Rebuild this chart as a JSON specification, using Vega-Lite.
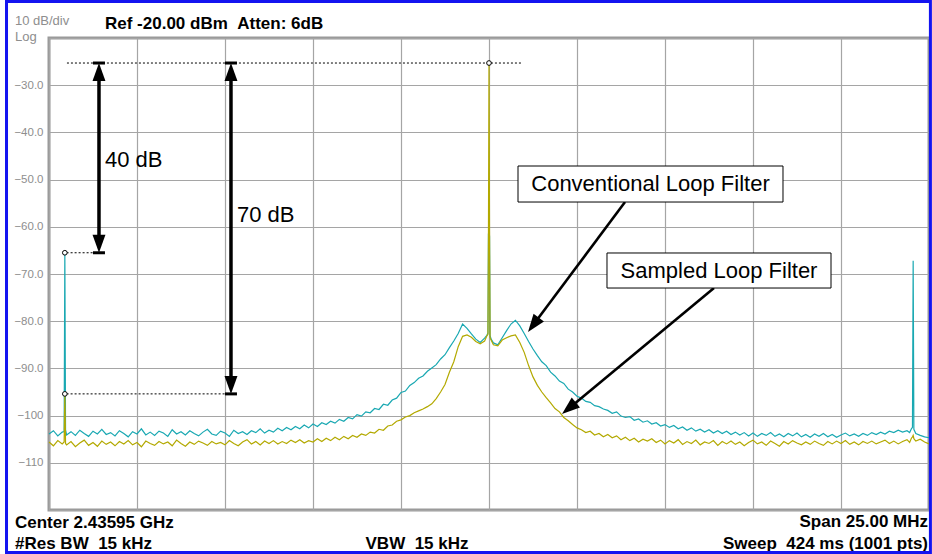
{
  "$schema": "https://vega.github.io/schema/vega-lite/v6.json",
  "width": 880,
  "height": 472,
  "autosize": {"type": "none"},
  "padding": {"left": 49, "top": 38, "right": 3, "bottom": 44},
  "background": "white",
  "config": {
    "view": {"stroke": "#9a9a9a", "strokeWidth": 3},
    "font": "Liberation Sans"
  },
  "datasets": {
    "trace": [
      {"f": -12.5, "c": -103.9, "s": -105.6},
      {"f": -12.375, "c": -103.2, "s": -106.4},
      {"f": -12.25, "c": -104.3, "s": -105.3},
      {"f": -12.125, "c": -103.5, "s": -106.0},
      {"f": -12.07, "c": -103.4, "s": -105.6},
      {"f": -12.05, "c": -65.5, "s": -95.4},
      {"f": -12.03, "c": -103.0, "s": -105.9},
      {"f": -12.0, "c": -104.1, "s": -106.2},
      {"f": -11.875, "c": -103.4, "s": -105.5},
      {"f": -11.75, "c": -104.2, "s": -106.6},
      {"f": -11.625, "c": -103.1, "s": -105.8},
      {"f": -11.5, "c": -103.8, "s": -105.2},
      {"f": -11.375, "c": -104.4, "s": -106.3},
      {"f": -11.25, "c": -103.3, "s": -105.7},
      {"f": -11.125, "c": -103.9, "s": -106.5},
      {"f": -11.0, "c": -102.9, "s": -105.4},
      {"f": -10.875, "c": -104.0, "s": -106.1},
      {"f": -10.75, "c": -103.6, "s": -105.6},
      {"f": -10.625, "c": -104.3, "s": -106.4},
      {"f": -10.5, "c": -103.2, "s": -105.5},
      {"f": -10.375, "c": -103.8, "s": -106.0},
      {"f": -10.25, "c": -104.5, "s": -105.3},
      {"f": -10.125, "c": -103.4, "s": -106.2},
      {"f": -10.0, "c": -103.9, "s": -105.7},
      {"f": -9.875, "c": -102.8, "s": -106.6},
      {"f": -9.75, "c": -104.1, "s": -105.4},
      {"f": -9.625, "c": -103.5, "s": -105.9},
      {"f": -9.5, "c": -104.2, "s": -106.3},
      {"f": -9.375, "c": -103.3, "s": -105.5},
      {"f": -9.25, "c": -103.7, "s": -106.0},
      {"f": -9.125, "c": -104.4, "s": -105.6},
      {"f": -9.0, "c": -103.0, "s": -106.4},
      {"f": -8.875, "c": -103.9, "s": -105.2},
      {"f": -8.75, "c": -103.4, "s": -105.9},
      {"f": -8.625, "c": -104.1, "s": -106.5},
      {"f": -8.5, "c": -103.2, "s": -105.6},
      {"f": -8.375, "c": -103.8, "s": -106.1},
      {"f": -8.25, "c": -104.3, "s": -105.4},
      {"f": -8.125, "c": -103.5, "s": -105.8},
      {"f": -8.0, "c": -102.9, "s": -106.3},
      {"f": -7.875, "c": -103.9, "s": -105.5},
      {"f": -7.75, "c": -104.2, "s": -106.0},
      {"f": -7.625, "c": -103.3, "s": -105.7},
      {"f": -7.5, "c": -103.7, "s": -106.2},
      {"f": -7.375, "c": -104.4, "s": -105.3},
      {"f": -7.25, "c": -103.1, "s": -105.9},
      {"f": -7.125, "c": -103.8, "s": -106.4},
      {"f": -7.0, "c": -103.4, "s": -105.6},
      {"f": -6.875, "c": -104.0, "s": -105.1},
      {"f": -6.75, "c": -103.2, "s": -106.0},
      {"f": -6.625, "c": -103.6, "s": -105.5},
      {"f": -6.5, "c": -102.8, "s": -106.2},
      {"f": -6.375, "c": -103.7, "s": -105.4},
      {"f": -6.25, "c": -103.1, "s": -105.9},
      {"f": -6.125, "c": -103.5, "s": -105.3},
      {"f": -6.0, "c": -102.7, "s": -106.0},
      {"f": -5.875, "c": -103.2, "s": -105.5},
      {"f": -5.75, "c": -102.5, "s": -105.9},
      {"f": -5.625, "c": -103.0, "s": -105.2},
      {"f": -5.5, "c": -102.3, "s": -105.7},
      {"f": -5.375, "c": -102.8, "s": -105.1},
      {"f": -5.25, "c": -102.0, "s": -105.8},
      {"f": -5.125, "c": -102.6, "s": -105.3},
      {"f": -5.0, "c": -101.8, "s": -105.6},
      {"f": -4.875, "c": -102.3, "s": -104.9},
      {"f": -4.75, "c": -101.5, "s": -105.5},
      {"f": -4.625, "c": -101.9, "s": -104.8},
      {"f": -4.5, "c": -101.2, "s": -105.3},
      {"f": -4.375, "c": -101.6, "s": -104.6},
      {"f": -4.25, "c": -100.8, "s": -105.1},
      {"f": -4.125, "c": -101.2, "s": -104.4},
      {"f": -4.0, "c": -100.4, "s": -104.9},
      {"f": -3.875, "c": -100.7, "s": -104.2},
      {"f": -3.75, "c": -99.8, "s": -104.6},
      {"f": -3.625, "c": -100.1, "s": -103.9},
      {"f": -3.5, "c": -99.2, "s": -104.2},
      {"f": -3.375, "c": -99.4, "s": -103.5},
      {"f": -3.25, "c": -98.5, "s": -103.7},
      {"f": -3.125, "c": -98.7, "s": -102.9},
      {"f": -3.0, "c": -97.6, "s": -103.1},
      {"f": -2.875, "c": -97.8, "s": -102.2},
      {"f": -2.75, "c": -96.7, "s": -102.0},
      {"f": -2.625, "c": -96.3, "s": -101.2},
      {"f": -2.5, "c": -95.1, "s": -100.9},
      {"f": -2.375, "c": -94.8, "s": -100.3},
      {"f": -2.25, "c": -93.6, "s": -100.0},
      {"f": -2.125, "c": -93.0, "s": -99.4},
      {"f": -2.0, "c": -92.1, "s": -99.0},
      {"f": -1.875, "c": -91.6, "s": -98.6},
      {"f": -1.75, "c": -90.6, "s": -98.1},
      {"f": -1.625, "c": -89.9, "s": -97.5},
      {"f": -1.5, "c": -89.2, "s": -96.4},
      {"f": -1.375, "c": -88.0, "s": -95.0},
      {"f": -1.25, "c": -87.1, "s": -93.4},
      {"f": -1.125, "c": -85.6, "s": -90.8},
      {"f": -1.0, "c": -84.2, "s": -88.6},
      {"f": -0.875, "c": -82.6, "s": -85.4},
      {"f": -0.75, "c": -80.6, "s": -83.2},
      {"f": -0.625, "c": -81.5, "s": -82.9},
      {"f": -0.5, "c": -82.7, "s": -83.4},
      {"f": -0.375, "c": -83.8, "s": -84.3},
      {"f": -0.25, "c": -84.5, "s": -84.8},
      {"f": -0.125, "c": -83.6, "s": -84.2},
      {"f": -0.06, "c": -83.0, "s": -83.1},
      {"f": -0.03, "c": -82.5, "s": -82.8},
      {"f": -0.015, "c": -61.5, "s": -60.8},
      {"f": 0.0, "c": -61.0, "s": -25.3},
      {"f": 0.015, "c": -62.0, "s": -61.0},
      {"f": 0.03, "c": -83.0, "s": -83.5},
      {"f": 0.06, "c": -83.8, "s": -84.0},
      {"f": 0.125, "c": -84.6, "s": -85.0},
      {"f": 0.25, "c": -85.0, "s": -85.2},
      {"f": 0.375, "c": -83.5, "s": -84.0},
      {"f": 0.5, "c": -82.0, "s": -83.5},
      {"f": 0.625, "c": -80.6, "s": -83.1},
      {"f": 0.75, "c": -79.8, "s": -82.9},
      {"f": 0.875, "c": -81.0, "s": -84.5},
      {"f": 1.0, "c": -82.6, "s": -86.6},
      {"f": 1.125, "c": -84.3, "s": -89.4},
      {"f": 1.25, "c": -85.9, "s": -91.8},
      {"f": 1.375, "c": -87.3, "s": -93.6},
      {"f": 1.5, "c": -88.6, "s": -95.0},
      {"f": 1.625, "c": -89.4, "s": -96.2},
      {"f": 1.75, "c": -90.8, "s": -97.3},
      {"f": 1.875, "c": -91.6, "s": -98.5},
      {"f": 2.0, "c": -92.7, "s": -99.2},
      {"f": 2.125, "c": -93.2, "s": -100.4},
      {"f": 2.25, "c": -94.4, "s": -101.1},
      {"f": 2.375, "c": -95.0, "s": -101.9},
      {"f": 2.5, "c": -95.9, "s": -102.6},
      {"f": 2.625, "c": -96.3, "s": -103.0},
      {"f": 2.75, "c": -97.0, "s": -103.6},
      {"f": 2.875, "c": -97.2, "s": -103.3},
      {"f": 3.0, "c": -97.9, "s": -104.1},
      {"f": 3.125, "c": -98.1, "s": -103.8},
      {"f": 3.25, "c": -98.6, "s": -104.5},
      {"f": 3.375, "c": -98.9, "s": -104.0},
      {"f": 3.5, "c": -99.5, "s": -104.7},
      {"f": 3.625, "c": -99.2, "s": -104.3},
      {"f": 3.75, "c": -100.1, "s": -105.1},
      {"f": 3.875, "c": -100.4, "s": -104.6},
      {"f": 4.0, "c": -100.2, "s": -105.3},
      {"f": 4.125, "c": -101.0, "s": -104.8},
      {"f": 4.25, "c": -100.7, "s": -105.6},
      {"f": 4.375, "c": -101.4, "s": -105.0},
      {"f": 4.5, "c": -101.1, "s": -105.4},
      {"f": 4.625, "c": -101.8, "s": -104.9},
      {"f": 4.75, "c": -101.5, "s": -105.7},
      {"f": 4.875, "c": -102.2, "s": -105.2},
      {"f": 5.0, "c": -101.9, "s": -106.0},
      {"f": 5.125, "c": -102.5, "s": -105.3},
      {"f": 5.25, "c": -102.1, "s": -105.8},
      {"f": 5.375, "c": -102.8, "s": -105.1},
      {"f": 5.5, "c": -102.4, "s": -106.1},
      {"f": 5.625, "c": -103.1, "s": -105.5},
      {"f": 5.75, "c": -102.6, "s": -105.9},
      {"f": 5.875, "c": -103.3, "s": -105.2},
      {"f": 6.0, "c": -102.9, "s": -106.2},
      {"f": 6.125, "c": -103.5, "s": -105.6},
      {"f": 6.25, "c": -103.0, "s": -105.9},
      {"f": 6.375, "c": -103.7, "s": -105.3},
      {"f": 6.5, "c": -103.2, "s": -106.3},
      {"f": 6.625, "c": -103.8, "s": -105.5},
      {"f": 6.75, "c": -103.3, "s": -106.0},
      {"f": 6.875, "c": -104.0, "s": -105.4},
      {"f": 7.0, "c": -103.5, "s": -106.1},
      {"f": 7.125, "c": -104.1, "s": -105.6},
      {"f": 7.25, "c": -103.6, "s": -106.4},
      {"f": 7.375, "c": -104.3, "s": -105.7},
      {"f": 7.5, "c": -103.7, "s": -105.2},
      {"f": 7.625, "c": -104.4, "s": -106.0},
      {"f": 7.75, "c": -103.8, "s": -105.6},
      {"f": 7.875, "c": -104.2, "s": -106.3},
      {"f": 8.0, "c": -103.6, "s": -105.4},
      {"f": 8.125, "c": -104.4, "s": -105.9},
      {"f": 8.25, "c": -103.9, "s": -106.5},
      {"f": 8.375, "c": -104.5, "s": -105.5},
      {"f": 8.5, "c": -103.8, "s": -106.0},
      {"f": 8.625, "c": -104.3, "s": -105.3},
      {"f": 8.75, "c": -103.7, "s": -105.8},
      {"f": 8.875, "c": -104.5, "s": -106.2},
      {"f": 9.0, "c": -104.0, "s": -105.6},
      {"f": 9.125, "c": -104.6, "s": -106.1},
      {"f": 9.25, "c": -103.9, "s": -105.4},
      {"f": 9.375, "c": -104.4, "s": -105.9},
      {"f": 9.5, "c": -103.8, "s": -106.3},
      {"f": 9.625, "c": -104.5, "s": -105.5},
      {"f": 9.75, "c": -104.0, "s": -106.0},
      {"f": 9.875, "c": -104.6, "s": -105.4},
      {"f": 10.0, "c": -104.1, "s": -105.9},
      {"f": 10.125, "c": -103.7, "s": -105.3},
      {"f": 10.25, "c": -104.3, "s": -106.1},
      {"f": 10.375, "c": -103.9, "s": -105.6},
      {"f": 10.5, "c": -104.4, "s": -106.2},
      {"f": 10.625, "c": -103.8, "s": -105.5},
      {"f": 10.75, "c": -104.2, "s": -105.9},
      {"f": 10.875, "c": -103.6, "s": -105.4},
      {"f": 11.0, "c": -104.0, "s": -106.0},
      {"f": 11.125, "c": -103.5, "s": -105.6},
      {"f": 11.25, "c": -103.9, "s": -105.2},
      {"f": 11.375, "c": -103.3, "s": -105.9},
      {"f": 11.5, "c": -103.6, "s": -105.4},
      {"f": 11.625, "c": -103.1, "s": -106.0},
      {"f": 11.75, "c": -103.5, "s": -105.5},
      {"f": 11.875, "c": -103.2, "s": -105.1},
      {"f": 11.95, "c": -103.6, "s": -105.7},
      {"f": 12.0, "c": -102.8, "s": -104.8},
      {"f": 12.03, "c": -102.5, "s": -104.5},
      {"f": 12.05, "c": -67.2, "s": -104.2},
      {"f": 12.07, "c": -102.9, "s": -104.9},
      {"f": 12.125, "c": -103.8, "s": -105.4},
      {"f": 12.25, "c": -104.2, "s": -105.0},
      {"f": 12.375, "c": -104.5, "s": -105.6},
      {"f": 12.5, "c": -104.7, "s": -106.0}
    ],
    "dots": [
      {"x": -11.99, "x2": 0.9375, "y": -25.3},
      {"x": -12.0, "x2": -10.95, "y": -65.5},
      {"x": -12.0, "x2": -7.25, "y": -95.4}
    ],
    "circles": [
      {"x": 0, "y": -25.3},
      {"x": -12.05, "y": -65.5},
      {"x": -12.05, "y": -95.4}
    ],
    "vshafts": [
      {"x": -11.08, "y": -27.0, "x2": -11.08, "y2": -63.8},
      {"x": -7.33, "y": -27.0, "x2": -7.33, "y2": -93.7}
    ],
    "dshafts": [
      {"x": 3.864, "y": -54.75, "x2": 1.244, "y2": -80.93},
      {"x": 6.392, "y": -72.97, "x2": 2.25, "y2": -98.58}
    ],
    "bars": [
      {"x": -11.25, "x2": -10.91, "y": -25.3},
      {"x": -11.25, "x2": -10.91, "y": -65.5},
      {"x": -7.5, "x2": -7.16, "y": -25.3},
      {"x": -7.5, "x2": -7.16, "y": -95.4}
    ],
    "heads": [
      {"x": -11.08, "y": -25.3, "a": 0},
      {"x": -11.08, "y": -65.5, "a": 180},
      {"x": -7.33, "y": -25.3, "a": 0},
      {"x": -7.33, "y": -95.4, "a": 180},
      {"x": 1.108, "y": -82.3, "a": 216.7},
      {"x": 2.074, "y": -99.66, "a": 230.3}
    ],
    "boxes": [
      {"x": 0.824, "x2": 8.352, "y": -47.12, "y2": -54.75, "cx": 4.588, "cy": -50.93, "label": "Conventional Loop Filter"},
      {"x": 3.352, "x2": 9.716, "y": -65.55, "y2": -72.97, "cx": 6.534, "cy": -69.26, "label": "Sampled Loop Filter"}
    ],
    "dblabels": [
      {"x": -10.91, "y": -45.85, "t": "40 dB"},
      {"x": -7.16, "y": -57.5, "t": "70 dB"}
    ],
    "graytext": [
      {"x": -13.466, "y": -16.5, "t": "10 dB/div"},
      {"x": -13.466, "y": -19.75, "t": "Log"}
    ],
    "boldleft": [
      {"x": -10.909, "y": -17.03, "t": "Ref -20.00 dBm\u00a0\u00a0Atten: 6dB"},
      {"x": -13.466, "y": -122.86, "t": "Center 2.43595 GHz"},
      {"x": -13.466, "y": -127.2, "t": "#Res BW\u00a0\u00a015 kHz"}
    ],
    "boldcenter": [
      {"x": -2.045, "y": -127.2, "t": "VBW\u00a0\u00a015 kHz"}
    ],
    "boldright": [
      {"x": 12.472, "y": -122.54, "t": "Span 25.00 MHz"},
      {"x": 12.472, "y": -127.2, "t": "Sweep\u00a0\u00a0424 ms (1001 pts)"}
    ],
    "frame": [
      {"x": -13.707, "x2": 12.54, "y": -12.27, "y2": -129.0}
    ]
  },
  "layer": [
    {
      "data": {"name": "trace"},
      "mark": {"type": "line", "color": "#19a8b2", "strokeWidth": 1.2, "interpolate": "linear"},
      "encoding": {
        "x": {
          "field": "f", "type": "quantitative",
          "scale": {"domain": [-12.5, 12.5], "nice": false, "zero": false},
          "axis": {
            "values": [-12.5, -10, -7.5, -5, -2.5, 0, 2.5, 5, 7.5, 10, 12.5],
            "grid": true, "gridColor": "#a5a5a5", "gridWidth": 1.2, "gridOpacity": 1,
            "labels": false, "ticks": false, "domain": false, "title": null
          }
        },
        "y": {
          "field": "c", "type": "quantitative",
          "scale": {"domain": [-120, -20], "nice": false, "zero": false},
          "axis": {
            "values": [-120, -110, -100, -90, -80, -70, -60, -50, -40, -30, -20],
            "grid": true, "gridColor": "#a5a5a5", "gridWidth": 1.2, "gridOpacity": 1,
            "ticks": false, "domain": false, "title": null,
            "labelColor": "#8e8e8e", "labelFontSize": 11.5, "labelFont": "Liberation Sans",
            "labelPadding": 6,
            "labelExpr": "datum.value == -20 || datum.value == -120 ? '' : (datum.value <= -100 ? format(datum.value, 'd') : format(datum.value, '.1f'))"
          }
        }
      }
    },
    {
      "data": {"name": "trace"},
      "mark": {"type": "line", "color": "#b3a900", "strokeWidth": 1.2, "interpolate": "linear"},
      "encoding": {
        "x": {"field": "f", "type": "quantitative"},
        "y": {"field": "s", "type": "quantitative"}
      }
    },
    {
      "data": {"name": "dots"},
      "mark": {"type": "rule", "color": "black", "strokeWidth": 1, "strokeDash": [2, 2]},
      "encoding": {
        "x": {"field": "x", "type": "quantitative"},
        "x2": {"field": "x2"},
        "y": {"field": "y", "type": "quantitative"}
      }
    },
    {
      "data": {"name": "vshafts"},
      "mark": {"type": "rule", "color": "black", "strokeWidth": 3.5},
      "encoding": {
        "x": {"field": "x", "type": "quantitative"},
        "x2": {"field": "x2"},
        "y": {"field": "y", "type": "quantitative"},
        "y2": {"field": "y2"}
      }
    },
    {
      "data": {"name": "dshafts"},
      "mark": {"type": "rule", "color": "black", "strokeWidth": 2.6},
      "encoding": {
        "x": {"field": "x", "type": "quantitative"},
        "x2": {"field": "x2"},
        "y": {"field": "y", "type": "quantitative"},
        "y2": {"field": "y2"}
      }
    },
    {
      "data": {"name": "bars"},
      "mark": {"type": "rule", "color": "black", "strokeWidth": 3},
      "encoding": {
        "x": {"field": "x", "type": "quantitative"},
        "x2": {"field": "x2"},
        "y": {"field": "y", "type": "quantitative"}
      }
    },
    {
      "data": {"name": "heads"},
      "mark": {"type": "point", "shape": "M0,0L-0.36,1L0.36,1Z", "filled": true, "color": "black", "opacity": 1, "size": 1296, "strokeWidth": 0},
      "encoding": {
        "x": {"field": "x", "type": "quantitative"},
        "y": {"field": "y", "type": "quantitative"},
        "angle": {"field": "a", "type": "quantitative", "scale": null}
      }
    },
    {
      "data": {"name": "circles"},
      "mark": {"type": "point", "shape": "circle", "filled": true, "fill": "white", "stroke": "black", "strokeWidth": 1, "opacity": 1, "size": 22},
      "encoding": {
        "x": {"field": "x", "type": "quantitative"},
        "y": {"field": "y", "type": "quantitative"}
      }
    },
    {
      "data": {"name": "boxes"},
      "mark": {"type": "rect", "fill": "white", "stroke": "black", "strokeWidth": 1},
      "encoding": {
        "x": {"field": "x", "type": "quantitative"},
        "x2": {"field": "x2"},
        "y": {"field": "y", "type": "quantitative"},
        "y2": {"field": "y2"}
      }
    },
    {
      "data": {"name": "boxes"},
      "mark": {"type": "text", "font": "Liberation Sans", "fontSize": 22, "color": "black", "align": "center", "baseline": "middle"},
      "encoding": {
        "x": {"field": "cx", "type": "quantitative"},
        "y": {"field": "cy", "type": "quantitative"},
        "text": {"field": "label"}
      }
    },
    {
      "data": {"name": "dblabels"},
      "mark": {"type": "text", "font": "Liberation Sans", "fontSize": 22, "color": "black", "align": "left", "baseline": "middle"},
      "encoding": {
        "x": {"field": "x", "type": "quantitative"},
        "y": {"field": "y", "type": "quantitative"},
        "text": {"field": "t"}
      }
    },
    {
      "data": {"name": "graytext"},
      "mark": {"type": "text", "font": "Liberation Sans", "fontSize": 13, "color": "#8e8e8e", "align": "left", "baseline": "middle"},
      "encoding": {
        "x": {"field": "x", "type": "quantitative"},
        "y": {"field": "y", "type": "quantitative"},
        "text": {"field": "t"}
      }
    },
    {
      "data": {"name": "boldleft"},
      "mark": {"type": "text", "font": "Liberation Sans", "fontSize": 17, "fontWeight": "bold", "color": "black", "align": "left", "baseline": "middle"},
      "encoding": {
        "x": {"field": "x", "type": "quantitative"},
        "y": {"field": "y", "type": "quantitative"},
        "text": {"field": "t"}
      }
    },
    {
      "data": {"name": "boldcenter"},
      "mark": {"type": "text", "font": "Liberation Sans", "fontSize": 17, "fontWeight": "bold", "color": "black", "align": "center", "baseline": "middle"},
      "encoding": {
        "x": {"field": "x", "type": "quantitative"},
        "y": {"field": "y", "type": "quantitative"},
        "text": {"field": "t"}
      }
    },
    {
      "data": {"name": "boldright"},
      "mark": {"type": "text", "font": "Liberation Sans", "fontSize": 17, "fontWeight": "bold", "color": "black", "align": "right", "baseline": "middle"},
      "encoding": {
        "x": {"field": "x", "type": "quantitative"},
        "y": {"field": "y", "type": "quantitative"},
        "text": {"field": "t"}
      }
    },
    {
      "data": {"name": "frame"},
      "mark": {"type": "rect", "fill": null, "fillOpacity": 0, "stroke": "#1414f0", "strokeWidth": 3},
      "encoding": {
        "x": {"field": "x", "type": "quantitative"},
        "x2": {"field": "x2"},
        "y": {"field": "y", "type": "quantitative"},
        "y2": {"field": "y2"}
      }
    }
  ]
}
